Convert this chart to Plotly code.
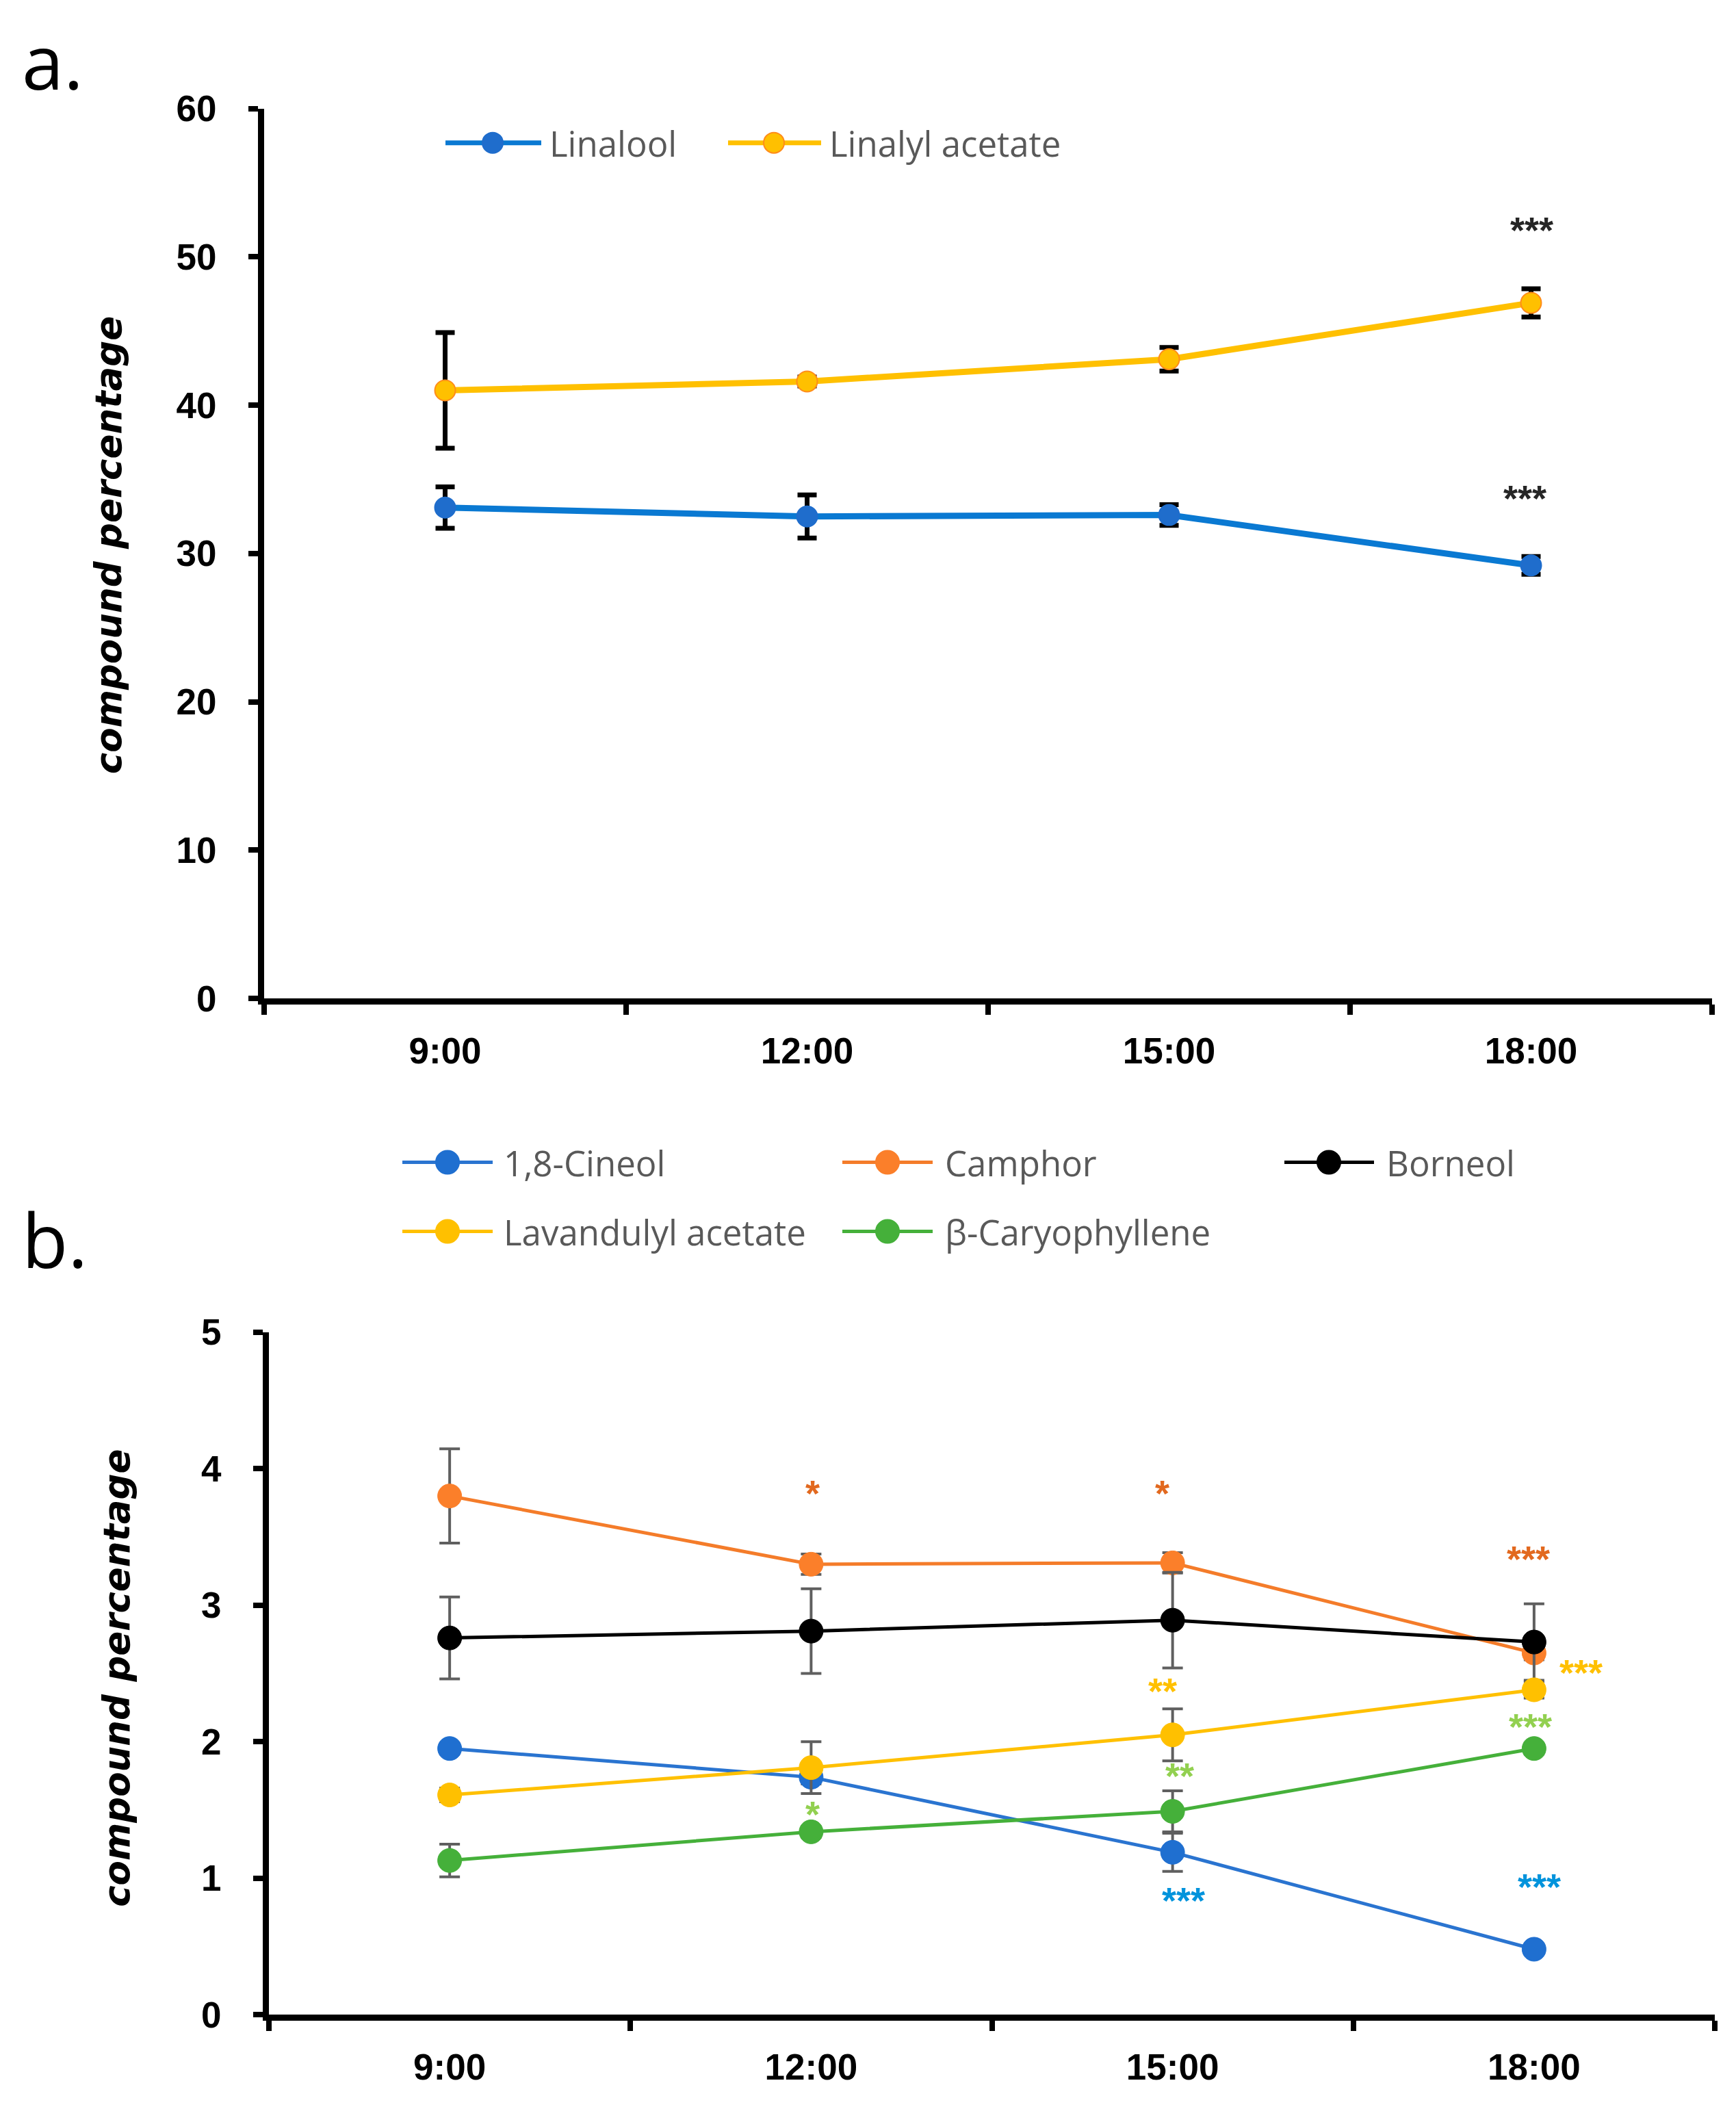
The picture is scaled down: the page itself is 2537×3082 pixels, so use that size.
import plotly.graph_objects as go

W, H = 2537, 3082

times = ["9:00", "12:00", "15:00", "18:00"]

# panel a
linalool = [33.1, 32.5, 32.6, 29.2]
linalool_err = [1.4, 1.45, 0.7, 0.6]
linalyl_acetate = [41.0, 41.6, 43.1, 46.9]
linalyl_acetate_err = [3.9, 0.3, 0.8, 0.95]

# panel b
cineol = [1.95, 1.74, 1.19, 0.48]
cineol_err = [0.04, 0.05, 0.14, 0.03]
camphor = [3.80, 3.30, 3.31, 2.65]
camphor_err = [0.345, 0.075, 0.075, 0.05]
borneol = [2.76, 2.81, 2.89, 2.73]
borneol_err = [0.30, 0.31, 0.35, 0.28]
lavandulyl_acetate = [1.61, 1.81, 2.05, 2.38]
lavandulyl_acetate_err = [0.05, 0.19, 0.19, 0.06]
caryophyllene = [1.13, 1.34, 1.49, 1.95]
caryophyllene_err = [0.12, 0.04, 0.15, 0.04]

# significance marks: (series, time index, label, height)
stars_a = [("Linalyl acetate", 3, "***", 52.0),
           ("Linalool", 3, "***", 33.9)]
stars_b = [("Camphor", 1, "*", 3.84), ("Camphor", 2, "*", 3.84), ("Camphor", 3, "***", 3.36),
           ("Lavandulyl acetate", 2, "**", 2.39), ("Lavandulyl acetate", 3, "***", 2.53),
           ("β-Caryophyllene", 1, "*", 1.49), ("β-Caryophyllene", 2, "**", 1.77),
           ("β-Caryophyllene", 3, "***", 2.13),
           ("1,8-Cineol", 2, "***", 0.86), ("1,8-Cineol", 3, "***", 0.96)]
# small horizontal nudges of the marks, in px
star_shift_a = [1, -9]
star_shift_b = [2, -15, -8, -15, 69, 2, 10, -5, 16, 8]

# name: (line colour, marker colour, marker outline, star colour)
colors_a = {
    "Linalool": ("#0a79d2", "#1f6dcc", "#1f6dcc", "#262626"),
    "Linalyl acetate": ("#ffc000", "#ffc000", "#ff8c1a", "#262626"),
}
colors_b = {
    "1,8-Cineol": ("#2a74d0", "#1f6fd0", "#1f6fd0", "#0093dc"),
    "Camphor": ("#f47c2a", "#fb7f2a", "#fb7f2a", "#e2691f"),
    "Borneol": ("#000000", "#000000", "#000000", "#000000"),
    "Lavandulyl acetate": ("#ffc000", "#ffc000", "#ffc000", "#ffc000"),
    "β-Caryophyllene": ("#45b03a", "#45b03a", "#45b03a", "#92d050"),
}

series_a = [("Linalool", linalool, linalool_err),
            ("Linalyl acetate", linalyl_acetate, linalyl_acetate_err)]
series_b = [("1,8-Cineol", cineol, cineol_err),
            ("Camphor", camphor, camphor_err),
            ("Borneol", borneol, borneol_err),
            ("Lavandulyl acetate", lavandulyl_acetate, lavandulyl_acetate_err),
            ("β-Caryophyllene", caryophyllene, caryophyllene_err)]

fig = go.Figure()

for name, vals, err in series_a:
    lc, mc, ml, _ = colors_a[name]
    fig.add_trace(go.Scatter(
        x=times, y=vals, name=name, mode="lines+markers",
        xaxis="x", yaxis="y", showlegend=False,
        line=dict(color=lc, width=9),
        marker=dict(size=30, color=mc, line=dict(color=ml, width=2)),
        error_y=dict(type="data", array=err, color="black", thickness=7, width=14),
    ))

for name, vals, err in series_b:
    lc, mc, ml, _ = colors_b[name]
    fig.add_trace(go.Scatter(
        x=times, y=vals, name=name, mode="lines+markers",
        xaxis="x2", yaxis="y2", showlegend=False,
        line=dict(color=lc, width=5),
        marker=dict(size=35, color=mc, line=dict(color=ml, width=1)),
        error_y=dict(type="data", array=err, color="#5f5f5f", thickness=4, width=15),
    ))

tick_font = dict(family="Liberation Sans", size=53, color="black", weight="bold")


def xax(domain, anchor):
    return dict(domain=domain, anchor=anchor, type="category", range=[-0.5, 3.5],
                tickson="boundaries", ticks="outside", ticklen=15, tickwidth=8,
                tickcolor="black", showline=True, linewidth=9, linecolor="black",
                showgrid=False, zeroline=False, tickfont=tick_font,
                ticklabelstandoff=22)


def yax(domain, anchor, top, step):
    return dict(domain=domain, anchor=anchor, range=[0, top], tick0=0, dtick=step,
                ticks="outside", ticklen=14, tickwidth=8, tickcolor="black",
                showline=True, linewidth=9, linecolor="black", showgrid=False,
                zeroline=False, tickfont=tick_font, ticklabelstandoff=36)


fig.update_layout(
    width=W, height=H, autosize=False,
    margin=dict(l=0, r=0, t=0, b=0),
    paper_bgcolor="white", plot_bgcolor="white",
    xaxis=xax([378 / W, 2494 / W], "y"),
    yaxis=yax([1 - 1450 / H, 1 - 124 / H], "x", 60, 10),
    xaxis2=xax([385 / W, 2498 / W], "y2"),
    yaxis2=yax([1 - 2964 / H, 1 - 1947 / H], "x2", 5, 1),
)

# significance stars
for (name, i, txt, yv), dx in zip(stars_a, star_shift_a):
    fig.add_annotation(x=i, y=yv, xref="x", yref="y", text=txt, showarrow=False,
                       xshift=dx, yshift=-4, xanchor="center", yanchor="middle",
                       font=dict(family="Liberation Sans", size=54, weight="bold",
                                 color=colors_a[name][3]))
for (name, i, txt, yv), dx in zip(stars_b, star_shift_b):
    fig.add_annotation(x=i, y=yv, xref="x2", yref="y2", text=txt, showarrow=False,
                       xshift=dx, yshift=-4, xanchor="center", yanchor="middle",
                       font=dict(family="Liberation Sans", size=54, weight="bold",
                                 color=colors_b[name][3]))

# axis titles
title_font = dict(family="DejaVu Sans", size=53, color="black", weight="bold", style="italic")
for px, py in [(150, 775), (163, 2463)]:
    fig.add_annotation(x=px / W, y=1 - py / H, xref="paper", yref="paper",
                       text="compound percentage", textangle=-90, showarrow=False,
                       xanchor="center", yanchor="middle", font=title_font)

# panel letters
for txt, py in [("a.", 52), ("b.", 1808)]:
    fig.add_annotation(x=22 / W, y=1 - py / H, xref="paper", yref="paper",
                       text=txt, showarrow=False, xanchor="left", yanchor="middle",
                       font=dict(family="Open Sans", size=110, color="black"))


# hand drawn legends (long line + dot like the original)
def legend_item(name, cols, x0, x1, xm, xt, py, lw, d):
    lc, mc, ml, _ = cols
    fig.add_shape(type="line", xref="paper", yref="paper",
                  x0=x0 / W, x1=x1 / W, y0=1 - py / H, y1=1 - py / H,
                  line=dict(color=lc, width=lw))
    fig.add_shape(type="circle", xref="paper", yref="paper",
                  xsizemode="pixel", ysizemode="pixel",
                  xanchor=xm / W, yanchor=1 - py / H,
                  x0=-d / 2, x1=d / 2, y0=-d / 2, y1=d / 2,
                  fillcolor=mc, line=dict(color=ml, width=2))
    fig.add_annotation(x=xt / W, y=1 - py / H, xref="paper", yref="paper",
                       text=name, showarrow=False, xanchor="left", yanchor="middle",
                       font=dict(family="Open Sans", size=51, color="#595959"))


legend_item("Linalool", colors_a["Linalool"], 643, 783, 712, 793, 175, 7, 30)
legend_item("Linalyl acetate", colors_a["Linalyl acetate"], 1056, 1192, 1123, 1202, 175, 7, 30)

cols_px = [(580, 712, 646, 726), (1223, 1355, 1289, 1371), (1869, 2000, 1934, 2016)]
rows_px = [1694, 1797]
for k, (name, _, _) in enumerate(series_b):
    x0, x1, xm, xt = cols_px[k % 3]
    legend_item(name, colors_b[name], x0, x1, xm, xt, rows_px[k // 3], 5, 34)

fig.write_html("out.html")
